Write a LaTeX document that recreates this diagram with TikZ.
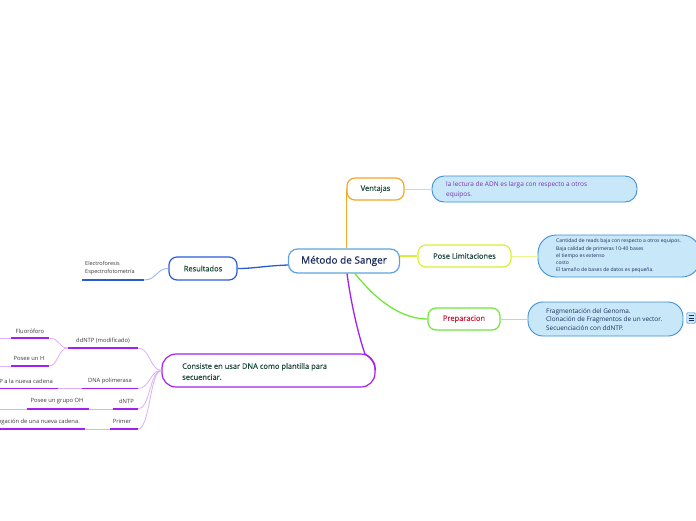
\documentclass[tikz,border=0pt]{standalone}
\usepackage{fontspec}
\setmainfont{Open Sans}
\newfontfamily\heavier[FakeBold=0.6]{Open Sans}
\usetikzlibrary{calc}
\definecolor{sangerc}{HTML}{5FA3D9}
\definecolor{orangec}{HTML}{F5A623}
\definecolor{lightorange}{HTML}{FCD08A}
\definecolor{yellowc}{HTML}{D7EF3A}
\definecolor{lightyellow}{HTML}{E8F590}
\definecolor{greenc}{HTML}{6EE83A}
\definecolor{lightgreen}{HTML}{A8F08A}
\definecolor{bluec}{HTML}{2A5BD7}
\definecolor{lightblue}{HTML}{9DB8F0}
\definecolor{purplec}{HTML}{A51FF0}
\definecolor{lightpurple}{HTML}{DCB0F5}
\definecolor{infofill}{HTML}{C8E8F9}
\definecolor{infoborder}{HTML}{3F8FD2}
\definecolor{darkgreen}{HTML}{1E4B3C}
\definecolor{navy}{HTML}{1C2D5C}
\definecolor{crimson}{HTML}{D0213F}
\definecolor{lecturac}{HTML}{7A2FA8}
\definecolor{labelc}{HTML}{3A3A3A}
\tikzset{
  mainbox/.style={draw, fill=white, line width=1.2pt, rounded corners=9pt, inner sep=0pt, text=darkgreen, font=\heavier\fontsize{7.5}{9}\selectfont},
  infobox/.style={draw=infoborder, fill=infofill, line width=0.9pt, inner sep=0pt},
  small/.style={text=labelc, font=\fontsize{5.8}{7}\selectfont, inner sep=0pt},
  uline/.style={draw=purplec, line width=1.8pt},
  lline/.style={draw=lightpurple, line width=0.8pt},
}
\begin{document}
\begin{tikzpicture}[x=1pt,y=-1pt]
\useasboundingbox (0,0) rectangle (696,520);

% main nodes
\node[mainbox, draw=sangerc, minimum width=111pt, minimum height=24pt, text=navy, font=\heavier\fontsize{10}{12}\selectfont] (sanger) at (344,261) {Método de Sanger};
\node[mainbox, draw=orangec, minimum width=57pt, minimum height=22pt, rounded corners=8pt] (ventajas) at (375.5,189) {Ventajas};
\node[mainbox, draw=yellowc, minimum width=93pt, minimum height=22pt, rounded corners=8pt] (pose) at (464.5,256) {Pose Limitaciones};
\node[mainbox, draw=greenc, minimum width=72pt, minimum height=22pt, rounded corners=8pt, text=crimson] (prep) at (464,319) {Preparacion};
\node[mainbox, draw=bluec, minimum width=68pt, minimum height=23pt, rounded corners=8pt] (result) at (203,268.5) {Resultados};
\node[mainbox, draw=purplec, minimum width=213pt, minimum height=33pt, rounded corners=14pt] (consiste) at (268.5,370.5) {};
\node[anchor=west, align=left, text=darkgreen, font=\heavier\fontsize{7.5}{11}\selectfont, inner sep=0pt] (consistet) at (182,371.5) {Consiste en usar DNA como plantilla para\\secuenciar.};

% info boxes
\node[infobox, minimum width=205pt, minimum height=26pt, rounded corners=12pt] (lectura) at (534.5,189) {};
\node[anchor=west, align=left, text=lecturac, font=\fontsize{6.5}{10}\selectfont, inner sep=0pt] (lecturat) at (446,189.5) {la lectura de ADN es larga con respecto a otros\\equipos.};

\node[infobox, minimum width=162pt, minimum height=42pt, rounded corners=18pt] (cantidad) at (619,256) {};
\node[anchor=west, align=left, text=navy, font=\fontsize{5.05}{7.25}\selectfont, inner sep=0pt] (cantidadt) at (556,256) {Cantidad de reads baja con respecto a otros equipos.\\Baja calidad de primeras 10-40 bases\\el tiempo es extenso\\costo\\El tamaño de bases de datos es pequeña.};

\node[infobox, minimum width=155pt, minimum height=34pt, rounded corners=15pt] (frag) at (605.5,319) {};
\node[anchor=west, align=left, text=navy, font=\fontsize{6.4}{8.5}\selectfont, inner sep=0pt] (fragt) at (546,319.5) {Fragmentación del Genoma.\\Clonación de Fragmentos de un vector.\\Secuenciación con ddNTP.};

% menu icon
\node[draw=infoborder, fill=infofill, line width=0.4pt, minimum width=9pt, minimum height=11pt, rounded corners=1.5pt, inner sep=0pt] (menu) at (691,318) {};
\foreach \yy in {-2.5,0,2.5}{\draw[navy, line width=0.7pt] ($(menu.center)+(-2.5,\yy)$) -- ($(menu.center)+(2.5,\yy)$);}

% connectors from Sanger
\draw[orangec, line width=1.3pt] (sanger.north -| ventajas.west) -- (ventajas.west);
\draw[lightorange, line width=0.9pt] (ventajas.east) -- (lectura.west);
\draw[yellowc, line width=1.3pt] (pose.west -| sanger.east) -- (pose.west);
\draw[lightyellow, line width=0.9pt] (pose.east) -- (cantidad.west);
\draw[greenc, line width=1.3pt] ($(sanger.south)+(11,0)$) .. controls (380,305) and (405,319) .. (prep.west);
\draw[lightgreen, line width=0.9pt] (prep.east) -- (frag.west);
\draw[bluec, line width=1.3pt] ($(sanger.west)+(0,4)$) .. controls (262,266) and (255,268.5) .. (result.east);
\draw[purplec, line width=1.3pt] ($(sanger.south)+(3,0)$) .. controls (352,310) and (360,340) .. (365,354) .. controls (372,358) and (375,364) .. (consiste.east);

% Resultados child
\coordinate (resl) at (82,280);
\coordinate (resr) at (144,280);
\draw[lightblue, line width=0.9pt] (result.west) .. controls (156,268.5) and (157,280) .. (resr);
\draw[bluec, line width=1.8pt] (resl) -- (resr);
\node[anchor=west, align=left, small, font=\fontsize{5.5}{8}\selectfont] (electro) at (85,268) {Electroforesis\\Espectrofotometría};

% Consiste children
\coordinate (ddL) at (68,348);   \coordinate (ddR) at (138,348);
\coordinate (dnaL) at (82,388.5); \coordinate (dnaR) at (138,388.5);
\coordinate (dntpL) at (113,409); \coordinate (dntpR) at (138,409);
\coordinate (primL) at (110,429); \coordinate (primR) at (138,429);

\draw[lline] (consiste.west) .. controls (150,370) and (150,348) .. (ddR);
\draw[lline] (consiste.west) .. controls (150,370) and (150,388.5) .. (dnaR);
\draw[lline] (consiste.west) .. controls (150,370) and (150,409) .. (dntpR);
\draw[lline] (consiste.west) .. controls (150,370) and (150,429) .. (primR);

\draw[uline] (ddL) -- (ddR);
\draw[uline] (dnaL) -- (dnaR);
\draw[uline] (dntpL) -- (dntpR);
\draw[uline] (primL) -- (primR);

\node[small] (ddt) at ($(ddL)!0.5!(ddR)+(0,-7.5)$) {ddNTP (modificado)};
\node[small] (dnat) at ($(dnaL)!0.5!(dnaR)+(0,-7.5)$) {DNA polimerasa};
\node[small] (dntpt) at ($(dntpL)!0.5!(dntpR)+(1,-7.5)$) {dNTP};
\node[small] (primt) at ($(primL)!0.5!(primR)+(-2,-7.5)$) {Primer};

% grandchildren of ddNTP
\coordinate (fluL) at (11,338);  \coordinate (fluR) at (49,338);
\coordinate (hL) at (11,366);    \coordinate (hR) at (49,366);
\draw[lline] (ddL) .. controls (58,348) and (60,338) .. (fluR);
\draw[lline] (ddL) .. controls (58,348) and (58,366) .. (hR);
\draw[lline] (0,338) -- (fluL);
\draw[lline] (0,366) -- (hL);
\draw[uline] (fluL) -- (fluR);
\draw[uline] (hL) -- (hR);
\node[small] (flut) at (30,331) {Fluoróforo};
\node[small] (ht) at (29,358.5) {Posee un H};

% grandchild of DNA polimerasa
\coordinate (addL) at (0,388.5); \coordinate (addR) at (58,388.5);
\draw[lline] (addR) -- (dnaL);
\draw[uline] (addL) -- (addR);
\node[small, anchor=east] (addt) at (53,381) {dNTP a la nueva cadena};

% grandchild of dNTP
\coordinate (ohL) at (27,409); \coordinate (ohR) at (89,409);
\draw[lline] (ohR) -- (dntpL);
\draw[lline] (0,409) -- (ohL);
\draw[uline] (ohL) -- (ohR);
\node[small] (oht) at (57,401.5) {Posee un grupo OH};

% grandchild of Primer
\coordinate (elL) at (0,429); \coordinate (elR) at (85,429);
\draw[lline] (elR) -- (primL);
\draw[uline] (elL) -- (elR);
\node[small, anchor=east] (elt) at (80,421.5) {Elongación de una nueva cadena.};
\end{tikzpicture}
\end{document}
